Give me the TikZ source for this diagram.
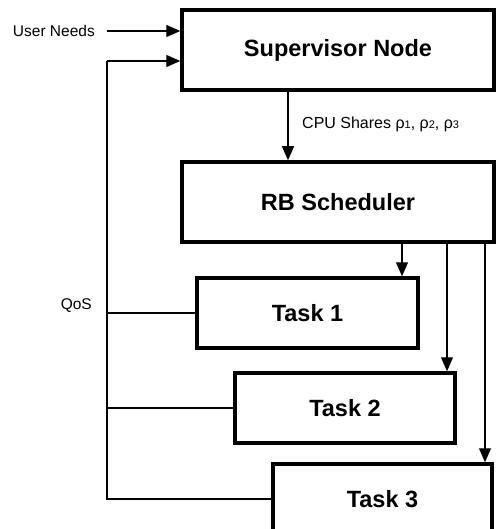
\documentclass[tikz,border=0pt]{standalone}
\usepackage{fontspec}
\setmainfont{Liberation Sans}
\usetikzlibrary{arrows.meta}
\begin{document}
\begin{tikzpicture}[x=1pt,y=-1pt,
  block/.style={draw, line width=3.5pt, rectangle, inner sep=0pt,
    font=\bfseries\fontsize{23.5}{27}\selectfont},
  wire/.style={line width=1.2pt},
  flow/.style={wire, -{Triangle[length=14pt,width=12pt]}},
  lbl/.style={inner sep=0pt, font=\fontsize{15.5}{18}\selectfont}]
  \useasboundingbox (0,0) rectangle (496,529);

  % blocks
  \node[block, minimum width=312pt, minimum height=80pt] (sup) at (338,50) {Supervisor Node};
  \node[block, minimum width=312pt, minimum height=80pt] (sch) at (338,202) {RB Scheduler};
  \node[block, minimum width=221pt, minimum height=70pt] (t1) at (307.5,313) {Task 1};
  \node[block, minimum width=220pt, minimum height=70pt] (t2) at (345,408) {Task 2};
  \node[block, minimum width=219pt, minimum height=70pt] (t3) at (382.5,499) {Task 3};

  % labels
  \newcommand\rhosub[1]{ρ\raisebox{-0.5pt}{\fontsize{11}{12}\selectfont #1}}
  \node[lbl, anchor=east] (un) at (95,31) {User Needs};
  \node[lbl, anchor=east] (qos) at (92,306) {QoS};
  \node[lbl, anchor=west, font=\fontsize{16}{18}\selectfont] (cpu) at (302,124)
    {CPU Shares \rhosub{1}, \rhosub{2}, \rhosub{3}};

  % helper coordinates
  \coordinate (fbtop) at (107,61);
  \coordinate (cx) at (288,0);
  \coordinate (c1) at (402,0);
  \coordinate (c2) at (447,0);
  \coordinate (c3) at (485,0);

  % inputs to the supervisor
  \draw[flow] ([xshift=12pt]un.east) -- (sup.west |- un.east);
  \draw[wire] (t3.west) -- (fbtop |- t3.west) -- (fbtop);
  \draw[flow] (fbtop) -- (sup.west |- fbtop);
  \draw[wire] (t1.west) -- (fbtop |- t1.west);
  \draw[wire] (t2.west) -- (fbtop |- t2.west);

  % supervisor to scheduler
  \draw[flow] (sup.south -| cx) -- (sch.north -| cx);

  % scheduler to tasks
  \draw[flow] (sch.south -| c1) -- (t1.north -| c1);
  \draw[flow] (sch.south -| c2) -- (t2.north -| c2);
  \draw[flow] (sch.south -| c3) -- (t3.north -| c3);
\end{tikzpicture}
\end{document}
